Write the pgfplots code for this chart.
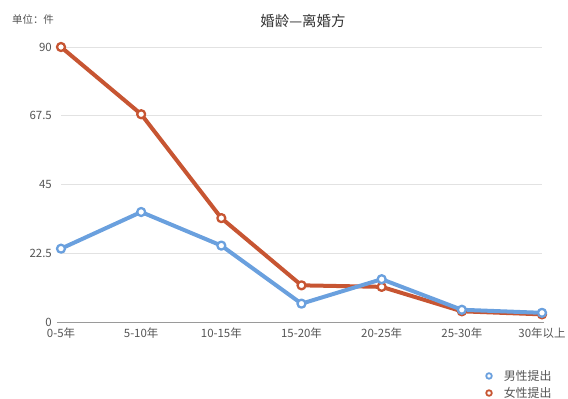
\documentclass[border=0pt]{standalone}
\usepackage{fontspec}
\setmainfont{Noto Sans CJK SC}
\usepackage{pgfplots}
\pgfplotsset{compat=1.18}

\definecolor{maleblue}{HTML}{6AA0DE}
\definecolor{femaleorange}{HTML}{C75532}
\definecolor{gridgray}{HTML}{E2E2E2}
\definecolor{axisgray}{HTML}{9A9A9A}
\definecolor{labelgray}{HTML}{555555}

\begin{document}
\begin{tikzpicture}
\useasboundingbox (0bp,0bp) rectangle (568bp,399bp);

% title and unit note
\node[font=\fontsize{14.5}{16}\selectfont, text=black!80] at (303bp,378bp) {婚龄—离婚方};
\node[font=\fontsize{10.5}{12}\selectfont, text=labelgray] at (33bp,380bp) {单位：件};

\begin{axis}[
  at={(61bp,77bp)}, anchor=origin,
  scale only axis, width=481bp, height=275bp,
  xmin=0, xmax=6, ymin=0, ymax=90,
  clip=false,
  axis line style={draw=none},
  major tick length=0pt,
  ymajorgrids, grid style={gridgray, line width=0.8bp},
  xtick={0,...,6},
  xticklabels={0-5年,5-10年,10-15年,15-20年,20-25年,25-30年,30年以上},
  ytick={0,22.5,45,67.5,90},
  yticklabels={0,22.5,45,67.5,90},
  ticklabel style={font=\fontsize{11.5}{13}\selectfont, text=labelgray, inner sep=0pt},
  yticklabel style={xshift=-9bp},
  xticklabel style={yshift=-6bp},
  /pgf/number format/assume math mode=true,
  reverse legend,
  legend style={at={(0.872,-0.16)}, anchor=north west, draw=none, fill=none,
    font=\fontsize{12}{14}\selectfont, text=labelgray, row sep=1.5bp},
  % ring marker followed by a blank gap before the entry text
  legend image code/.code={
    \draw[#1, line width=1.8bp, fill=white] (0.12cm,0cm) circle (2.8bp);
    \path (0cm,0cm) (0.5cm,0cm);},
  every axis plot/.append style={line width=4bp, mark=*, mark size=4bp,
    mark options={fill=white, line width=2.3bp}, line join=round},
]
\draw[axisgray, line width=0.9bp] (axis cs:-0.05,0) -- (axis cs:6.02,0);

\addplot[femaleorange] coordinates {
  (0,90) (1,68) (2,34) (3,12) (4,11.5) (5,3.5) (6,2.5)
};
\addlegendentry{女性提出}

\addplot[maleblue] coordinates {
  (0,24) (1,36) (2,25) (3,6) (4,14) (5,4) (6,3)
};
\addlegendentry{男性提出}
\end{axis}
\end{tikzpicture}
\end{document}
